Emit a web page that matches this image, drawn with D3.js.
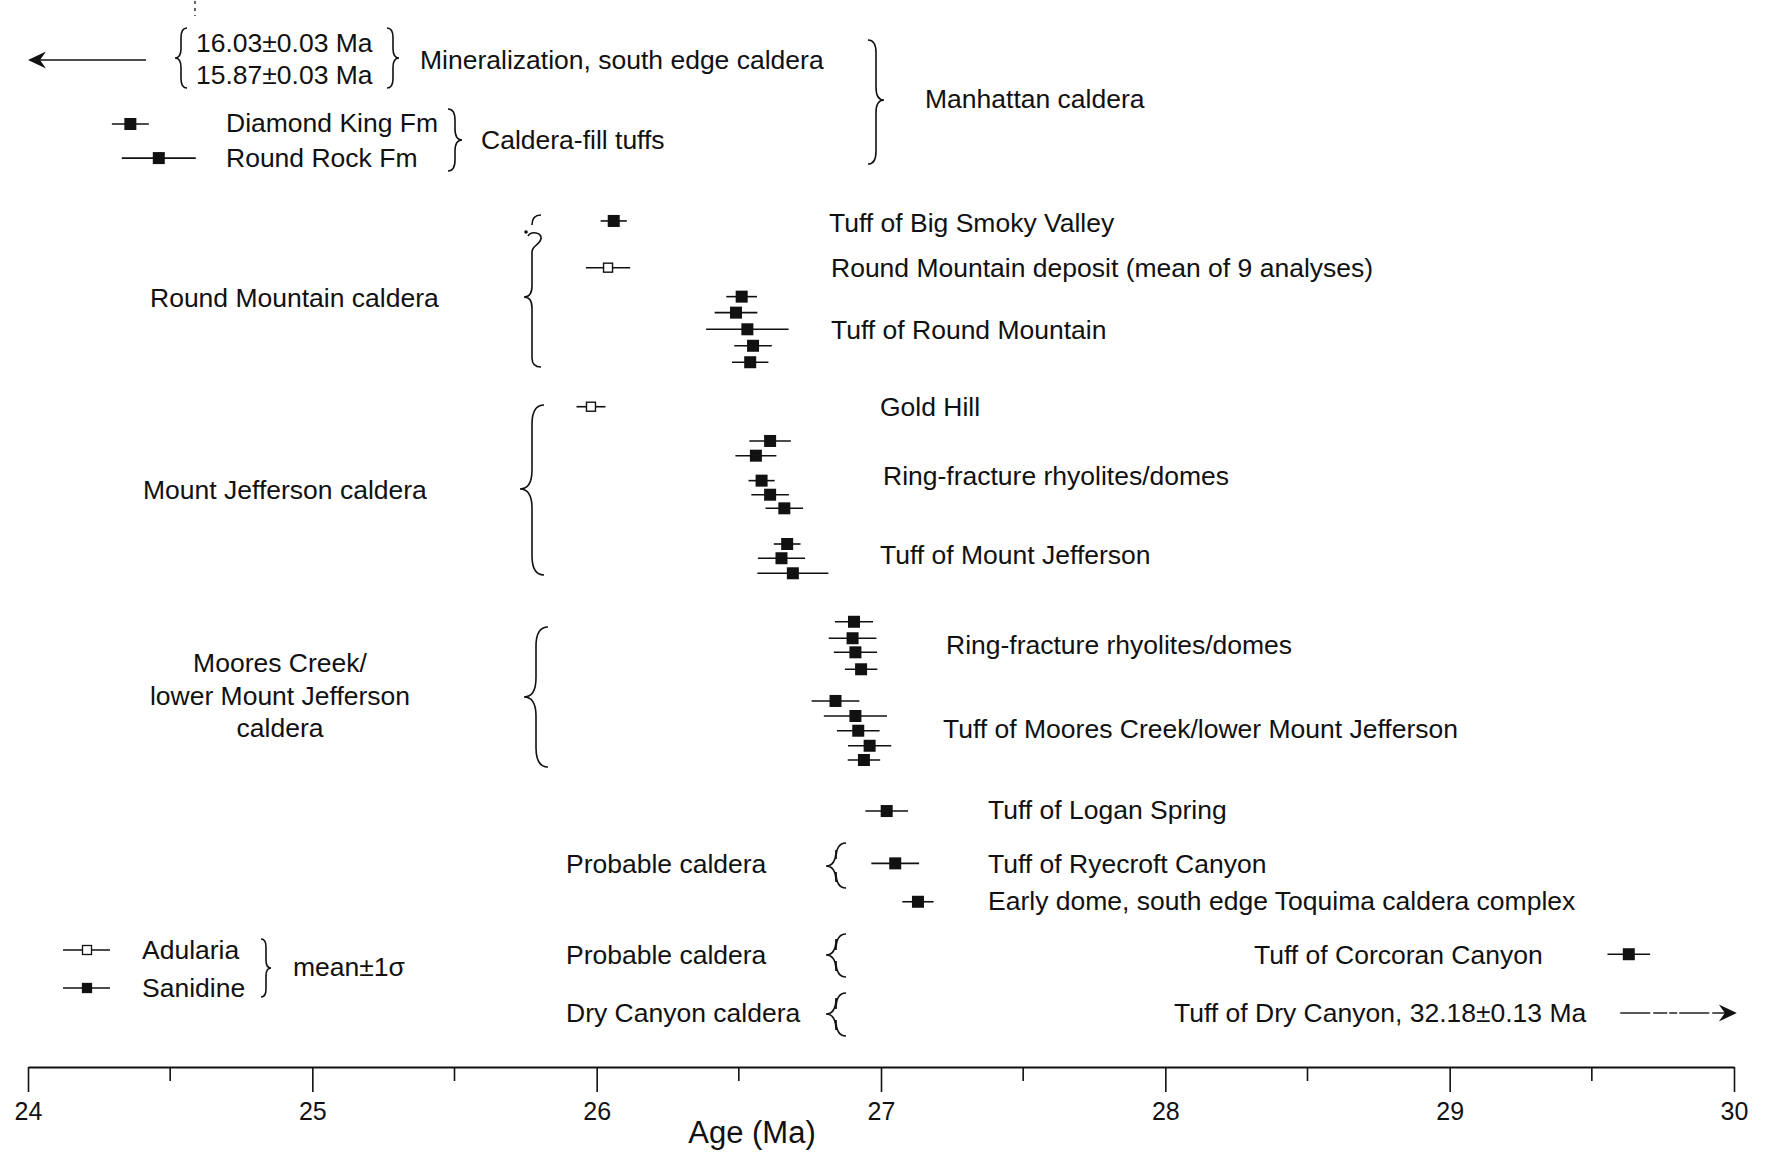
<!DOCTYPE html>
<html>
<head>
<meta charset="utf-8">
<script src="https://cdn.jsdelivr.net/npm/d3@7"></script>
<style>
  body { margin: 0; background: #fff; }
  svg text { font-family: "Liberation Sans", Arial, sans-serif; fill: #111; }
</style>
</head>
<body>
<svg id="chart" width="1769" height="1152"></svg>
<script>
// ages (Ma) and 1 sigma errors
const pointUnit = [
  "Diamond King Fm", "Round Rock Fm",
  "Tuff of Big Smoky Valley", "Round Mountain deposit",
  "Tuff of Round Mountain", "Tuff of Round Mountain", "Tuff of Round Mountain", "Tuff of Round Mountain", "Tuff of Round Mountain",
  "Gold Hill",
  "MJ ring-fracture", "MJ ring-fracture", "MJ ring-fracture", "MJ ring-fracture", "MJ ring-fracture",
  "Tuff of Mount Jefferson", "Tuff of Mount Jefferson", "Tuff of Mount Jefferson",
  "MC ring-fracture", "MC ring-fracture", "MC ring-fracture", "MC ring-fracture",
  "Tuff of Moores Creek", "Tuff of Moores Creek", "Tuff of Moores Creek", "Tuff of Moores Creek", "Tuff of Moores Creek",
  "Tuff of Logan Spring", "Tuff of Ryecroft Canyon", "Early dome", "Tuff of Corcoran Canyon"
]
const pointAge = [
  24.36, 24.46,
  26.06, 26.04,
  26.51, 26.49, 26.53, 26.55, 26.54,
  25.98,
  26.61, 26.56, 26.58, 26.61, 26.66,
  26.67, 26.65, 26.69,
  26.905, 26.90, 26.91, 26.93,
  26.84, 26.91, 26.92, 26.96, 26.94,
  27.02, 27.05, 27.13, 29.63
]
const pointErr = [
  0.065, 0.13,
  0.046, 0.078,
  0.054, 0.075, 0.145, 0.066, 0.064,
  0.051,
  0.073, 0.072, 0.046, 0.066, 0.066,
  0.047, 0.083, 0.125,
  0.067, 0.084, 0.076, 0.057,
  0.084, 0.111, 0.075, 0.076, 0.057,
  0.075, 0.084, 0.055, 0.075
]
// S = sanidine, A = adularia
const pointMineral = [
  "S", "S", "S", "A", "S", "S", "S", "S", "S", "A",
  "S", "S", "S", "S", "S", "S", "S", "S",
  "S", "S", "S", "S", "S", "S", "S", "S", "S",
  "S", "S", "S", "S"
]
// vertical slot of each analysis (row units, top to bottom)
const pointRow = [
  7.25, 9.38,
  13.31, 16.23,
  18.04, 19.04, 20.08, 21.11, 22.14,
  24.92,
  27.06, 27.98, 29.54, 30.42, 31.27,
  33.5, 34.39, 35.33,
  38.36, 39.39, 40.27, 41.33,
  43.31, 44.25, 45.17, 46.11, 47.0,
  50.19, 53.46, 55.86, 59.14
]

const majorTicks = [24, 25, 26, 27, 28, 29, 30]
const minorTicks = [24.5, 25.5, 26.5, 27.5, 28.5, 29.5]

// off-scale ages shown as arrows
const offScaleLeftAges = [16.03, 15.87]
const offScaleRightAge = 32.18

const svg = d3.select('#chart')

const axisY = 1067
const x = d3.scaleLinear().domain([24, 30]).range([28, 1734])
const y = d3.scaleLinear().domain([0, 66]).range([8, 1064])

const FS = 26.5

// ---- axis
const axis = d3.axisBottom(x)
  .tickValues(majorTicks)
  .tickSize(25)
  .tickSizeOuter(0)
  .tickPadding(10)
  .tickFormat(d3.format('d'))

const gx = svg.append('g').attr('transform', `translate(0,${axisY})`).call(axis)
gx.select('.domain').attr('stroke', '#111').attr('stroke-width', 2)
gx.selectAll('.tick line').attr('stroke', '#111').attr('stroke-width', 1.6)
gx.selectAll('.tick text')
  .attr('font-size', 25)
  .attr('font-family', '"Liberation Sans", Arial, sans-serif')
  .attr('fill', '#111')

gx.selectAll('.minor')
  .data(minorTicks)
  .enter()
  .append('line')
  .attr('x1', d => x(d))
  .attr('x2', d => x(d))
  .attr('y1', 0)
  .attr('y2', 14)
  .attr('stroke', '#111')
  .attr('stroke-width', 1.6)

svg.append('text')
  .attr('x', 752)
  .attr('y', 1143)
  .attr('text-anchor', 'middle')
  .attr('font-size', 31)
  .text('Age (Ma)')

// ---- error bars
const points = pointAge.map((a, i) => ({
  age: a, err: pointErr[i], min: pointMineral[i], row: pointRow[i], unit: pointUnit[i]
}))

svg.selectAll('.bar')
  .data(points)
  .enter()
  .append('line')
  .attr('x1', d => x(d.age - d.err))
  .attr('x2', d => x(d.age + d.err))
  .attr('y1', d => y(d.row))
  .attr('y2', d => y(d.row))
  .attr('stroke', '#111')
  .attr('stroke-width', 1.6)

svg.selectAll('.sq')
  .data(points)
  .enter()
  .append('rect')
  .attr('x', d => x(d.age) - (d.min == 'S' ? 6 : 4.5))
  .attr('y', d => y(d.row) - (d.min == 'S' ? 6 : 4.5))
  .attr('width', d => d.min == 'S' ? 12 : 9)
  .attr('height', d => d.min == 'S' ? 12 : 9)
  .attr('fill', d => d.min == 'S' ? '#111' : '#fff')
  .attr('stroke', '#111')
  .attr('stroke-width', d => d.min == 'S' ? 0 : 1.4)

// ---- off-scale arrows
const arrowHead = (tipX, yy, dir) => {
  const l = 18, h = 8.5
  return `M${tipX},${yy} L${tipX - dir * l},${yy - h} L${tipX - dir * (l - 6)},${yy} L${tipX - dir * l},${yy + h} Z`
}
// mineralization (16 Ma) - off the left edge
const leftY = 60
svg.append('line')
  .attr('x1', x(24) + 8).attr('x2', x(24.415))
  .attr('y1', leftY).attr('y2', leftY)
  .attr('stroke', '#111').attr('stroke-width', 1.5)
svg.append('path').attr('d', arrowHead(x(24), leftY, -1)).attr('fill', '#111')

// Dry Canyon (32.18 Ma) - off the right edge
const rightY = 1013
svg.append('line')
  .attr('x1', x(29.6)).attr('x2', x(30.0) - 6)
  .attr('y1', rightY).attr('y2', rightY)
  .attr('stroke', '#222').attr('stroke-width', 1.3)
  .attr('stroke-dasharray', '30,3,14,2,8,2')
svg.append('path').attr('d', arrowHead(x(30.01), rightY, 1)).attr('fill', '#111')

// tiny dotted mark at the very top
svg.append('line')
  .attr('x1', 195).attr('x2', 195).attr('y1', 1).attr('y2', 16)
  .attr('stroke', '#333').attr('stroke-width', 1.5).attr('stroke-dasharray', '3,4')

// ---- braces
// dir = -1 -> "{" (points left), dir = 1 -> "}" (points right)
const brace = (bx, y0, y1, dir, w, ym) => {
  ym = ym == undefined ? (y0 + y1) / 2 : ym
  const c = w * 0.5
  return `M${bx - dir * c},${y0} Q${bx},${y0} ${bx},${y0 + c * 1.6} ` +
    `L${bx},${ym - c * 1.6} Q${bx},${ym} ${bx + dir * c},${ym} ` +
    `Q${bx},${ym} ${bx},${ym + c * 1.6} ` +
    `L${bx},${y1 - c * 1.6} Q${bx},${y1} ${bx - dir * c},${y1}`
}
const braces = [
  [181, 28, 88, -1, 12],
  [393, 28, 88, 1, 12],
  [876, 40, 164, 1, 16, 100],
  [455, 109, 171, 1, 14],
  [532, 405, 575, -1, 24, 489],
  [536, 627, 767, -1, 24, 697],
  [836, 843, 888, -1, 20, 866],
  [836, 934, 977, -1, 20, 955],
  [836, 993, 1036, -1, 20, 1014],
  [266, 939, 997, 1, 10, 968]
]
svg.selectAll('.brace')
  .data(braces)
  .enter()
  .append('path')
  .attr('d', d => brace(d[0], d[1], d[2], d[3], d[4], d[5]))
  .attr('fill', 'none')
  .attr('stroke', '#111')
  .attr('stroke-width', 1.6)

// Round Mountain brace with the query at the top
svg.append('path')
  .attr('d', 'M541,215 Q532,215 532,225 M528,236 C531,231 542,232 541,239 C540,245 532,245 532,252 ' +
    'L532,286 Q532,297 524,297 Q532,297 532,308 L532,358 Q532,367 541,367')
  .attr('fill', 'none').attr('stroke', '#111').attr('stroke-width', 1.6)
svg.append('circle').attr('cx', 526).attr('cy', 232).attr('r', 1.8).attr('fill', '#111')

// ---- legend symbols
const legendSym = [['A', 950], ['S', 988]]
svg.selectAll('.lgbar')
  .data(legendSym)
  .enter()
  .append('line')
  .attr('x1', 63).attr('x2', 110)
  .attr('y1', d => d[1]).attr('y2', d => d[1])
  .attr('stroke', '#111').attr('stroke-width', 1.6)
svg.selectAll('.lgsq')
  .data(legendSym)
  .enter()
  .append('rect')
  .attr('x', 82.5).attr('y', d => d[1] - 4.5)
  .attr('width', 9).attr('height', 9)
  .attr('fill', d => d[0] == 'S' ? '#111' : '#fff')
  .attr('stroke', '#111').attr('stroke-width', 1.3)

// ---- text labels
const labels = [
  ['16.03±0.03 Ma', 196, 43, 'start'],
  ['15.87±0.03 Ma', 196, 75, 'start'],
  ['Mineralization, south edge caldera', 420, 60, 'start'],
  ['Manhattan caldera', 925, 99, 'start'],
  ['Diamond King Fm', 226, 123, 'start'],
  ['Round Rock Fm', 226, 158, 'start'],
  ['Caldera-fill tuffs', 481, 140, 'start'],
  ['Round Mountain caldera', 150, 298, 'start'],
  ['Tuff of Big Smoky Valley', 829, 223, 'start'],
  ['Round Mountain deposit (mean of 9 analyses)', 831, 268, 'start'],
  ['Tuff of Round Mountain', 831, 330, 'start'],
  ['Gold Hill', 880, 407, 'start'],
  ['Mount Jefferson caldera', 143, 490, 'start'],
  ['Ring-fracture rhyolites/domes', 883, 476, 'start'],
  ['Tuff of Mount Jefferson', 880, 555, 'start'],
  ['Moores Creek/', 280, 663, 'middle'],
  ['lower Mount Jefferson', 280, 696, 'middle'],
  ['caldera', 280, 728, 'middle'],
  ['Ring-fracture rhyolites/domes', 946, 645, 'start'],
  ['Tuff of Moores Creek/lower Mount Jefferson', 943, 729, 'start'],
  ['Tuff of Logan Spring', 988, 810, 'start'],
  ['Probable caldera', 566, 864, 'start'],
  ['Tuff of Ryecroft Canyon', 988, 864, 'start'],
  ['Early dome, south edge Toquima caldera complex', 988, 901, 'start'],
  ['Adularia', 142, 950, 'start'],
  ['Sanidine', 142, 988, 'start'],
  ['mean±1σ', 293, 967, 'start'],
  ['Probable caldera', 566, 955, 'start'],
  ['Dry Canyon caldera', 566, 1013, 'start'],
  ['Tuff of Corcoran Canyon', 1254, 955, 'start'],
  ['Tuff of Dry Canyon, 32.18±0.13 Ma', 1174, 1013, 'start']
]
svg.selectAll('.lbl')
  .data(labels)
  .enter()
  .append('text')
  .attr('x', d => d[1])
  .attr('y', d => d[2])
  .attr('dy', '0.35em')
  .attr('text-anchor', d => d[3])
  .attr('font-size', FS)
  .text(d => d[0])
</script>
</body>
</html>
